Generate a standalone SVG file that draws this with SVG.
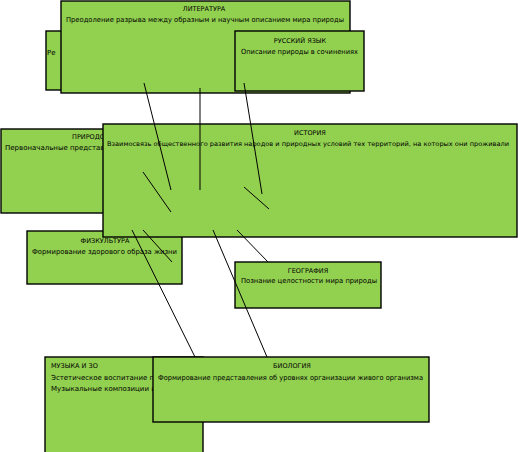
<svg xmlns="http://www.w3.org/2000/svg" width="518" height="452" viewBox="0 0 518 452">
<style>
.box{fill:#92d050;stroke:#000;stroke-width:1.4}
text{font-family:"DejaVu Sans",sans-serif;font-size:7px;fill:#000}
.c{text-anchor:middle}
.t{font-size:6.5px}
.con line{stroke:#000;stroke-width:1}
</style>
<rect width="518" height="452" fill="#fff"/>
<g id="n-re"><rect class="box" x="46" y="31" width="40" height="59"/><text x="47" y="54.5">Ре</text></g>
<g id="n-lit"><rect class="box" x="61" y="1" width="289" height="92"/><text class="c t" x="204" y="10.5">ЛИТЕРАТУРА</text><text class="c" x="205" y="21.5" textLength="278" lengthAdjust="spacingAndGlyphs">Преодоление разрыва между образным и научным описанием мира природы</text></g>
<g id="n-rus"><rect class="box" x="235" y="31" width="129" height="60"/><text class="c t" x="300" y="42.5">РУССКИЙ ЯЗЫК</text><text class="c" x="299.5" y="53.5" textLength="117" lengthAdjust="spacingAndGlyphs">Описание природы в сочинениях</text></g>
<g id="n-prir"><rect class="box" x="1" y="129" width="130" height="84"/><text class="t" x="72" y="139">ПРИРОДО</text><text x="5" y="150">Первоначальные представл</text></g>
<g id="n-fiz"><rect class="box" x="27" y="231" width="155" height="53"/><text class="c t" x="105" y="242.5">ФИЗКУЛЬТУРА</text><text class="c" x="104.5" y="253.5" textLength="145" lengthAdjust="spacingAndGlyphs">Формирование здорового образа жизни</text></g>
<g id="n-ist"><rect class="box" x="103" y="124" width="414" height="113"/><text class="c t" x="310" y="134.5">ИСТОРИЯ</text><text class="c" x="308" y="145.5" style="font-size:6.4px" textLength="402" lengthAdjust="spacingAndGlyphs">Взаимосвязь общественного развития народов и природных условий тех территорий, на которых они проживали</text></g>
<g id="n-geo"><rect class="box" x="235" y="262" width="146" height="46"/><text class="c t" x="308" y="272.5">ГЕОГРАФИЯ</text><text class="c" x="309" y="283" textLength="136" lengthAdjust="spacingAndGlyphs">Познание целостности мира природы</text></g>
<g id="n-muz"><rect class="box" x="45" y="357" width="158" height="100"/><text class="t" x="51" y="368">МУЗЫКА И ЗО</text><text x="51" y="379.5">Эстетическое воспитание при</text><text x="51" y="390.5">Музыкальные композиции и ри</text></g>
<g id="n-bio"><rect class="box" x="153" y="357" width="276" height="65"/><text class="c t" x="292" y="367.5">БИОЛОГИЯ</text><text class="c" x="290.5" y="379.5" textLength="265" lengthAdjust="spacingAndGlyphs">Формирование представления об уровнях организации живого организма</text></g>
<g id="connectors" class="con">
<line x1="144" y1="83" x2="171" y2="190"/>
<line x1="200" y1="88" x2="200" y2="190"/>
<line x1="244" y1="83" x2="262" y2="194"/>
<line x1="143" y1="172" x2="171" y2="212"/>
<line x1="244" y1="187" x2="269" y2="209"/>
<line x1="132" y1="230" x2="195" y2="357"/>
<line x1="143" y1="230" x2="172" y2="262"/>
<line x1="213" y1="230" x2="267" y2="357"/>
<line x1="237" y1="230" x2="268" y2="262"/>
</g>
</svg>
